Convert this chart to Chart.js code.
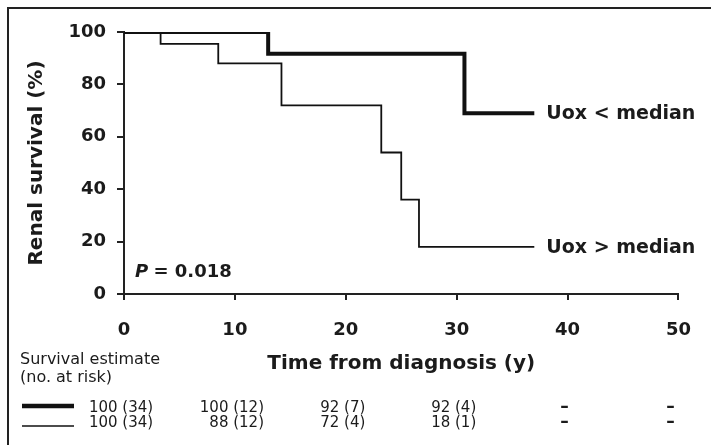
<!DOCTYPE html>
<html><head><meta charset="utf-8">
<script src="https://cdn.jsdelivr.net/npm/chart.js@4.4.1/dist/chart.umd.min.js"></script>
<style>html,body{margin:0;padding:0;background:#fff}#wrap{width:711px;height:445px;position:relative}canvas{display:block}</style>
</head><body><div id="wrap"><canvas id="c" width="711" height="445"></canvas></div>
<script>
// ---- data ----
const timesLow = [0, 13, 30.7, 37];
const survivalLow = [100, 91.7, 69, 69];
const timesHigh = [0, 3.3, 8.5, 14.2, 23.2, 25.0, 26.6, 37];
const survivalHigh = [100, 95.5, 88, 72, 54, 36, 18, 18];
const seriesLabels = ['Uox < median', 'Uox > median'];
const xTicks = [0, 10, 20, 30, 40, 50];
const yTicks = [0, 20, 40, 60, 80, 100];
const riskTimes = [0, 10, 20, 30, 40, 50];
const riskLow = ['100 (34)', '100 (12)', '92 (7)', '92 (4)', '–', '–'];
const riskHigh = ['100 (34)', '88 (12)', '72 (4)', '18 (1)', '–', '–'];
const riskHeader = ['Survival estimate', '(no. at risk)'];
const pValue = '0.018';
const xTitle = 'Time from diagnosis (y)';
const yTitle = 'Renal survival (%)';

const FONT = "'DejaVu Sans', sans-serif";
const INK = '#1b1b1b';
const LINE = '#111';

const decor = {
  id: 'decor',
  afterDraw(chart) {
    const ctx = chart.ctx;
    const xs = chart.scales.x, ys = chart.scales.y;
    ctx.save();
    // outer frame (top + left visible)
    ctx.strokeStyle = '#222';
    ctx.lineWidth = 2;
    ctx.beginPath();
    ctx.moveTo(8, 460); ctx.lineTo(8, 8); ctx.lineTo(720, 8);
    ctx.stroke();

    // series labels
    ctx.fillStyle = INK;
    ctx.font = 'bold 19px ' + FONT;
    ctx.textAlign = 'left';
    ctx.textBaseline = 'middle';
    const lastL = timesLow.length - 1, lastH = timesHigh.length - 1;
    ctx.fillText(seriesLabels[0], xs.getPixelForValue(timesLow[lastL]) + 12, ys.getPixelForValue(survivalLow[lastL]) + 1);
    ctx.fillText(seriesLabels[1], xs.getPixelForValue(timesHigh[lastH]) + 12, ys.getPixelForValue(survivalHigh[lastH]) + 1);

    // P value
    ctx.font = 'italic bold 18px ' + FONT;
    const px = 135, py = 272;
    ctx.fillText('P', px, py);
    const pw = ctx.measureText('P').width;
    ctx.font = 'bold 18px ' + FONT;
    ctx.fillText(' = ' + pValue, px + pw - 1, py);

    // risk table header
    ctx.font = '16px ' + FONT;
    ctx.fillText(riskHeader[0], 20, 360);
    ctx.fillText(riskHeader[1], 20, 378);

    // sample lines
    ctx.strokeStyle = LINE;
    ctx.lineWidth = 4.5;
    ctx.beginPath(); ctx.moveTo(22, 406); ctx.lineTo(74, 406); ctx.stroke();
    ctx.lineWidth = 1.6;
    ctx.beginPath(); ctx.moveTo(22, 426); ctx.lineTo(74, 426); ctx.stroke();

    // risk values
    ctx.textAlign = 'right';
    riskTimes.forEach((t, i) => {
      const isDash = riskLow[i] === '–';
      ctx.font = (isDash ? 'bold 17px ' : '15px ') + FONT;
      const c = xs.getPixelForValue(t) - (i === riskTimes.length - 1 ? 8 : 3);
      const w = Math.max(ctx.measureText(riskLow[i]).width, ctx.measureText(riskHigh[i]).width);
      const r = c + w / 2;
      ctx.fillText(riskLow[i], r, 408);
      ctx.fillText(riskHigh[i], r, 423);
    });
    ctx.restore();
  }
};

new Chart(document.getElementById('c'), {
  type: 'line',
  data: {
    datasets: [
      { label: seriesLabels[0], data: timesLow.map((t, i) => ({x: t, y: survivalLow[i]})),
        borderColor: LINE, borderWidth: 4, stepped: 'before', pointRadius: 0, fill: false },
      { label: seriesLabels[1], data: timesHigh.map((t, i) => ({x: t, y: survivalHigh[i]})),
        borderColor: LINE, borderWidth: 1.8, stepped: 'before', pointRadius: 0, fill: false }
    ]
  },
  options: {
    responsive: false,
    animation: false,
    devicePixelRatio: 1,
    layout: { padding: { left: 0, top: 32, right: 31, bottom: 69 } },
    plugins: { legend: { display: false }, tooltip: { enabled: false } },
    scales: {
      x: {
        type: 'linear', min: 0, max: 50,
        afterBuildTicks: s => { s.ticks = xTicks.map(v => ({ value: v })); },
        afterFit: s => { s.height = 82; },
        ticks: { font: { family: FONT, size: 18, weight: 'bold' }, color: INK, padding: 20, maxRotation: 0 },
        grid: { drawOnChartArea: false, tickLength: 6, lineWidth: 2, color: '#222' },
        border: { color: '#222', width: 2 },
        title: { display: true, text: xTitle, font: { family: FONT, size: 20, weight: 'bold' }, color: INK, padding: 0 }
      },
      y: {
        type: 'linear', min: 0, max: 100,
        afterBuildTicks: s => { s.ticks = yTicks.map(v => ({ value: v })); },
        afterFit: s => { s.width = 124; },
        ticks: { font: { family: FONT, size: 18, weight: 'bold' }, color: INK, padding: 11 },
        grid: { drawOnChartArea: false, tickLength: 7, lineWidth: 2, color: '#222' },
        border: { color: '#222', width: 2 },
        title: { display: true, text: yTitle, font: { family: FONT, size: 20, weight: 'bold' }, color: INK, padding: { top: 25, bottom: 0 } }
      }
    }
  },
  plugins: [decor]
});
</script>
</body></html>
